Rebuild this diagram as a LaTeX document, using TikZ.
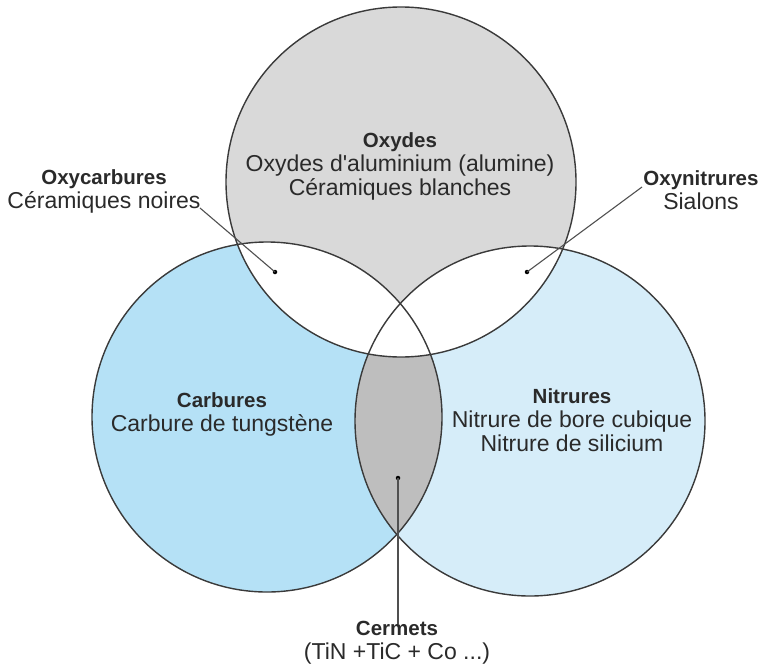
\documentclass[tikz,border=0pt]{standalone}
\usepackage{fontspec}
\setmainfont{Liberation Sans}
\definecolor{oxgray}{HTML}{D9D9D9}
\definecolor{carbblue}{HTML}{B5E1F6}
\definecolor{nitblue}{HTML}{D6EDF9}
\definecolor{lensgray}{HTML}{BEBEBE}
\definecolor{edgecol}{HTML}{3A3A3A}
\definecolor{txtcol}{HTML}{2A2A2A}
\definecolor{leadcol}{HTML}{505050}
\newcommand{\ttl}[1]{{\fontsize{20.5}{24}\selectfont\bfseries #1}}
\begin{document}
\begin{tikzpicture}[x=1pt,y=-1pt,
  ring/.style={draw=edgecol, line width=1.4pt},
  lbl/.style={align=center, text=txtcol, inner sep=0pt, font=\fontsize{23}{24}\selectfont},
  leader/.style={draw=leadcol, line width=1.1pt},
  dotmark/.style={fill=black, circle, inner sep=0pt, minimum size=4.5pt}]
\useasboundingbox[fill=white] (0,0) rectangle (759,666);
\coordinate (cO) at (401,182);
\coordinate (cC) at (267,417);
\coordinate (cN) at (530,421);
\def\R{175pt}
% fills
\fill[carbblue] (cC) circle[radius=\R];
\fill[nitblue] (cN) circle[radius=\R];
\begin{scope}
  \clip (cC) circle[radius=\R];
  \fill[lensgray] (cN) circle[radius=\R];
\end{scope}
\fill[oxgray] (cO) circle[radius=\R];
\begin{scope}
  \clip (cO) circle[radius=\R];
  \fill[white] (cC) circle[radius=\R];
  \fill[white] (cN) circle[radius=\R];
\end{scope}
% outlines
\draw[ring] (cO) circle[radius=\R];
\draw[ring] (cC) circle[radius=\R];
\draw[ring] (cN) circle[radius=\R];
% labels
\node[lbl] (oxydes) at (400,166) {\ttl{Oxydes}\\Oxydes d\textquotesingle aluminium (alumine)\\Céramiques blanches};
\node[lbl] (oxycarb) at (104,191) {\ttl{Oxycarbures}\\Céramiques noires};
\node[lbl] (oxynit) at (701,190) {\ttl{Oxynitrures}\\Sialons};
\node[lbl] (carb) at (222,414) {\ttl{Carbures}\\Carbure de tungstène};
\node[lbl] (nitr) at (572,420) {\ttl{Nitrures}\\Nitrure de bore cubique\\Nitrure de silicium};
\node[lbl] (cermets) at (397,643) {\ttl{Cermets}\\(TiN +TiC + Co ...)};
% leaders
\coordinate (sOC) at (200,208);
\coordinate (sON) at (642,187);
\node[dotmark] (dOC) at (275,272) {};
\node[dotmark] (dON) at (527,272) {};
\node[dotmark] (dCe) at (398,478) {};
\draw[leader] (sOC) -- (dOC.center);
\draw[leader] (sON) -- (dON.center);
\draw[leader] (dCe.center) -- ([yshift=-3pt]dCe |- cermets.north);
\end{tikzpicture}
\end{document}
